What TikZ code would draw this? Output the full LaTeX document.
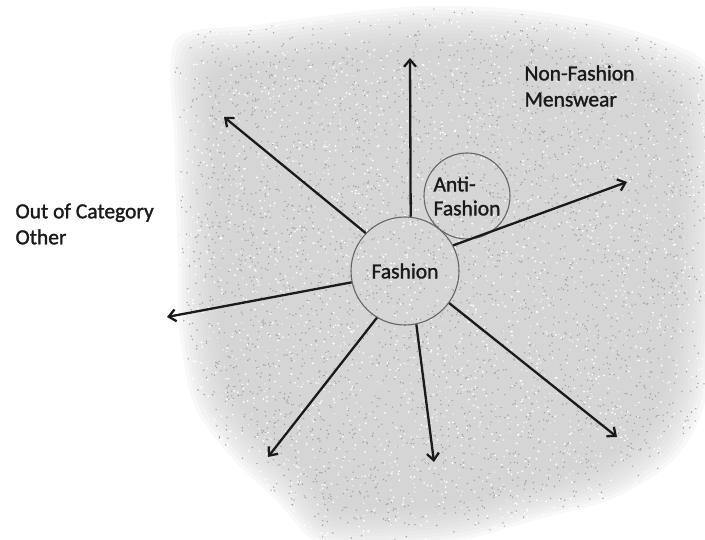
\documentclass[tikz,border=0pt]{standalone}
\usepackage{fontspec}
\setmainfont{Carlito}[FakeBold=1.4]
\definecolor{inkgrey}{HTML}{1A1A1A}
\definecolor{fuzzgrey}{HTML}{CBCBCB}
\usetikzlibrary{arrows.meta}

\tikzset{
  blob/.style={insert path={plot[smooth cycle] coordinates {(188,52)
    (262,38) (350,26) (430,19) (520,23) (608,38) (690,70) (706,120)
    (706,260) (700,336) (690,405) (662,452) (606,488) (534,508) (456,529)
    (378,535) (322,530) (286,492) (242,450) (206,400) (192,330) (190,250)
    (187,150)}}}
}

\begin{document}
\begin{tikzpicture}[x=1pt, y=-1pt,
  ring/.style={circle, draw=black!60, line width=1.1pt, inner sep=0pt,
    font=\fontsize{21.5}{24}\selectfont, text=inkgrey},
  spoke/.style={-{Straight Barb[length=7pt,width=12pt]}, line width=2.3pt,
    draw=inkgrey},
  lbl/.style={anchor=west, align=left, font=\fontsize{21.5}{26}\selectfont,
    text=inkgrey},
  haze/.style={fill=fuzzgrey, fill opacity=0.13}
]
  \useasboundingbox (0,0) rectangle (705,540);

  % speckled field behind the circles, soft edge from stacked layers
  \foreach \s in {1.05,1.035,...,0.88}
    \fill[haze, scale around={\s:(440,285)}, blob];
  \begin{scope}
    \clip[scale around={1.04:(440,285)}, blob];
    \pgfmathsetseed{4242}
    \foreach \i in {1,...,2200}
      \fill[black!36] ({160+560*rnd},{555*rnd}) circle (0.8pt);
    \foreach \i in {1,...,1600}
      \fill[white] ({160+560*rnd},{555*rnd}) circle (1pt);
  \end{scope}
  \begin{scope}
    \clip[scale around={0.94:(440,285)}, blob];
    \foreach \i in {1,...,2000}
      \fill[black!36] ({180+530*rnd},{10+530*rnd}) circle (0.8pt);
    \foreach \i in {1,...,1600}
      \fill[white!92!black] ({180+530*rnd},{10+530*rnd}) circle (1pt);
  \end{scope}

  \node[ring, minimum size=108pt] (fashion) at (405,271) {Fashion};
  \node[ring, minimum size=86pt, align=left] (anti) at (467,196)
    {Anti-\\Fashion};

  \node[lbl] (outcat) at (12,224) {Out of Category\\Other};
  \node[lbl] (nonfash) at (521,86) {Non-Fashion\\Menswear};

  \coordinate (tipN)  at (410,58);
  \coordinate (tipNW) at (224,117);
  \coordinate (tipW)  at (167,317);
  \coordinate (tipSW) at (268,457);
  \coordinate (tipS)  at (434,462);
  \coordinate (tipSE) at (617,437);
  \coordinate (tipE)  at (627,182);

  \draw[spoke] (fashion.84)  -- (tipN);
  \draw[spoke] (fashion.136) -- (tipNW);
  \draw[spoke] (fashion.192) -- (tipW);
  \draw[spoke] (fashion.239) -- (tipSW);
  \draw[spoke] (fashion.282) -- (tipS);
  \draw[spoke] (fashion.324) -- (tipSE);
  \draw[spoke] (fashion.28)  -- (tipE);
\end{tikzpicture}
\end{document}
